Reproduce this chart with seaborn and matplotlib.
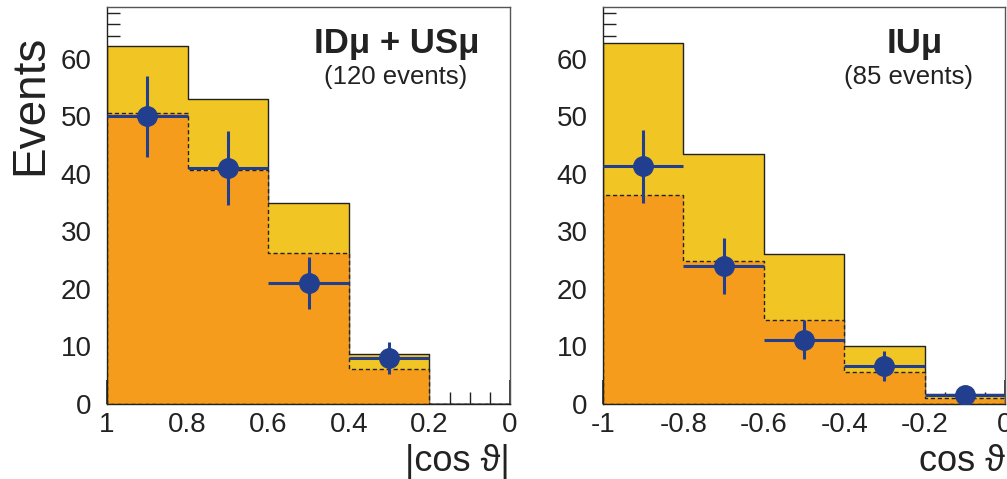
import numpy as np
import matplotlib
matplotlib.use("Agg")
import matplotlib.pyplot as plt
import seaborn as sns
from matplotlib.ticker import MultipleLocator

sns.set_style("ticks")
plt.rcParams['font.family'] = ['Liberation Sans', 'DejaVu Sans']

# bin edges for both panels
edges_abs = [0.0, 0.2, 0.4, 0.6, 0.8, 1.0]
edges_neg = [-1.0, -0.8, -0.6, -0.4, -0.2, 0.0]

# left panel: |cos theta|, bins listed from 1 down to 0
centers_left = [0.9, 0.7, 0.5, 0.3, 0.1]
total_left = [62.3, 53.0, 35.0, 8.7, 0.0]
signal_left = [50.6, 40.7, 26.2, 6.0, 0.0]
data_left = [50.0, 41.0, 21.0, 8.0]
err_left = [7.0, 6.5, 4.5, 2.8]

# right panel: cos theta
centers_right = [-0.9, -0.7, -0.5, -0.3, -0.1]
total_right = [62.7, 43.5, 26.1, 10.0, 1.7]
signal_right = [36.4, 24.8, 14.6, 5.5, 1.1]
data_right = [41.3, 24.0, 11.2, 6.6, 1.6]
err_right = [6.4, 4.9, 3.4, 2.6, 1.2]

yellow = '#F1C524'
orange = '#F59C1C'
blue = '#223F8F'

fig = plt.figure(figsize=(10.07, 4.79), dpi=100)
ax1 = fig.add_axes([0.1063, 0.1566, 0.4002, 0.8288])
ax2 = fig.add_axes([0.5988, 0.1566, 0.3992, 0.8288])


def draw_panel(ax, centers, edges, total, signal, data, err):
    sns.histplot(x=centers, weights=total, bins=edges, element='step', fill=True,
                 color=yellow, alpha=1, edgecolor='#222222', linewidth=1.0, ax=ax)
    sns.histplot(x=centers, weights=signal, bins=edges, element='step', fill=True,
                 color=orange, alpha=1, edgecolor='#222222', linewidth=1.0,
                 linestyle=(0, (3, 2)), ax=ax)
    n = len(data)
    ax.errorbar(centers[:n], data, xerr=0.1, yerr=err, fmt='o', color=blue,
                ms=14, elinewidth=2.2, capsize=0, zorder=5)
    ax.set_ylim(0, 69)
    ax.set_ylabel('')
    ax.xaxis.set_major_locator(MultipleLocator(0.2))
    ax.xaxis.set_minor_locator(MultipleLocator(0.05))
    ax.yaxis.set_major_locator(MultipleLocator(10))
    ax.yaxis.set_minor_locator(MultipleLocator(2))
    ax.tick_params(which='major', direction='in', length=17, width=1.2, labelsize=20,
                   colors='#222222', labelcolor='#222222')
    ax.tick_params(axis='x', which='major', pad=6)
    ax.tick_params(axis='y', which='major', pad=11)
    ax.tick_params(which='minor', direction='in', length=9, width=1.0, colors='#222222')
    for s in ax.spines.values():
        s.set_color('#555555')
        s.set_linewidth(1.0)
    ax.spines['left'].set_color('#222222')
    ax.spines['bottom'].set_color('#222222')
    ax.set_facecolor('white')


draw_panel(ax1, centers_left, edges_abs, total_left, signal_left, data_left, err_left)
ax1.set_xlim(1, 0)
ax1.set_xticks([1, 0.8, 0.6, 0.4, 0.2, 0])
ax1.set_xticklabels(['1', '0.8', '0.6', '0.4', '0.2', '0'])

draw_panel(ax2, centers_right, edges_neg, total_right, signal_right, data_right, err_right)
ax2.set_xlim(-1, 0)
ax2.set_xticks([-1, -0.8, -0.6, -0.4, -0.2, 0])
ax2.set_xticklabels(['-1', '-0.8', '-0.6', '-0.4', '-0.2', '0'])

ax1.set_ylabel('Events', fontsize=33, color='#222222')
ax1.yaxis.set_label_coords(-0.135, 0.754)

ax1.set_xlabel('|cos ϑ|', fontsize=26, color='#222222', loc='right')
ax1.xaxis.set_label_coords(1.0, -0.1)
ax2.set_xlabel('cos ϑ', fontsize=26, color='#222222', loc='right')
ax2.xaxis.set_label_coords(1.0, -0.1)

ax1.text(0.72, 0.909, 'IDμ + USμ', transform=ax1.transAxes, ha='center', va='center',
         fontsize=25, fontweight='bold', color='#222222')
ax1.text(0.715, 0.824, '(120 events)', transform=ax1.transAxes, ha='center', va='center',
         fontsize=18.5, color='#222222')
ax2.text(0.776, 0.909, 'IUμ', transform=ax2.transAxes, ha='center', va='center',
         fontsize=25, fontweight='bold', color='#222222')
ax2.text(0.759, 0.824, '(85 events)', transform=ax2.transAxes, ha='center', va='center',
         fontsize=18.5, color='#222222')

fig.savefig('out.png', dpi=100)
